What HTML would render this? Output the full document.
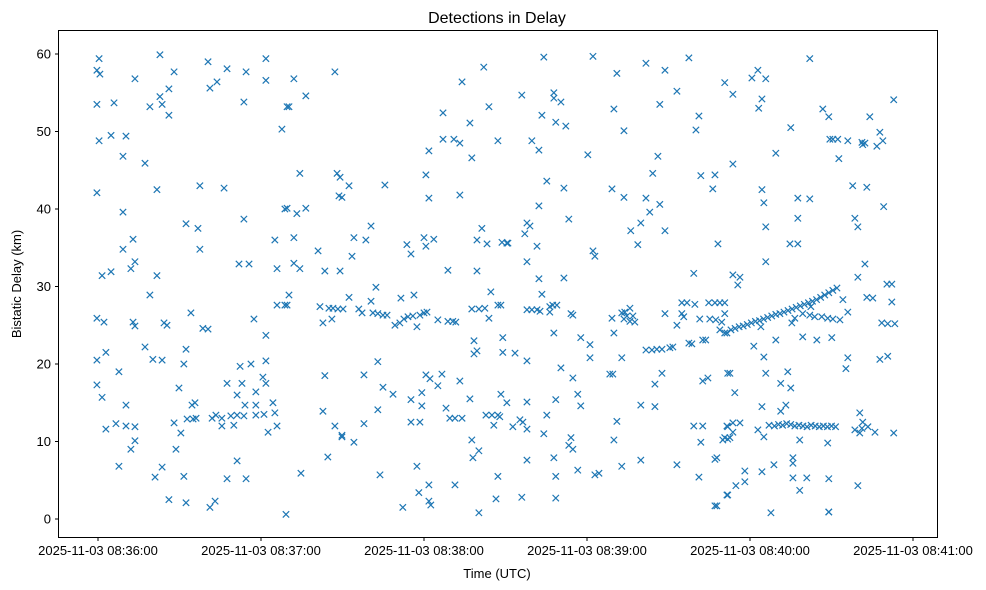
<!DOCTYPE html>
<html><head><meta charset="utf-8"><title>Detections in Delay</title>
<style>
html,body{margin:0;padding:0;background:#fff;}
svg{display:block;font-family:"Liberation Sans","DejaVu Sans",sans-serif;}
</style></head>
<body>
<svg id="chart" width="986" height="590" viewBox="0 0 986 590">
  <rect x="0" y="0" width="986" height="590" fill="#fff"/>
  <text x="497" y="23" text-anchor="middle" font-size="16" fill="#000">Detections in Delay</text>
  <g id="marks"></g>
  <rect x="58.5" y="30.5" width="879" height="507" fill="none" stroke="#000" stroke-width="1"/>
  <g id="xaxis"></g>
  <g id="yaxis"></g>
  <text x="497" y="578" text-anchor="middle" font-size="13" fill="#000">Time (UTC)</text>
  <text x="21" y="284" text-anchor="middle" font-size="13" fill="#000" transform="rotate(-90 21 284)">Bistatic Delay (km)</text>
</svg>
<script>
// seconds after 2025-11-03 08:36:00 UTC
const timesSec = [
0.4,-0.4,0.7,13.6,22.8,28.0,40.5,47.5,54.5,61.8,61.8,41.2,43.8,26.1,22.8,23.6,19.1,26.1,-0.4,5.9,53.7,69.6,67.7,0.4,4.8,10.3,9.2,17.3,-0.4,21.7,37.5,46.4,9.2,53.7,32.4,36.8,37.5,65.1,68.8,9.2,12.9,13.6,12.1,1.5,4.8,21.7,51.9,55.6,65.9,19.1,-0.4,2.2,12.9,13.6,24.3,25.4,34.2,38.6,40.5,57.4,61.8,65.9,68.8,-0.4,2.9,17.3,20.2,23.6,32.4,31.6,7.7,-0.4,1.5,10.3,29.8,52.3,56.3,61.8,47.5,53.0,51.2,58.1,60.7,61.8,34.6,35.7,54.1,58.1,64.4,65.1,2.9,6.6,10.3,13.6,13.6,12.1,28.0,30.5,32.8,35.0,36.1,42.0,43.4,45.6,45.6,48.9,50.0,51.2,53.7,58.1,61.1,62.6,65.9,28.7,7.7,23.6,21.0,31.6,51.2,47.5,54.5,26.1,32.4,41.2,43.1,69.2,
72.1,87.2,76.5,70.3,74.3,88.0,89.1,92.4,88.7,89.8,105.6,69.6,73.2,76.5,72.1,81.0,83.5,89.1,93.5,94.2,98.6,100.5,72.1,74.3,70.3,69.6,81.7,85.0,86.5,88.3,90.2,82.8,86.1,92.4,96.0,97.2,100.5,102.3,101.2,103.0,104.9,106.4,109.3,111.1,112.6,114.1,115.9,117.4,118.5,120.0,121.1,111.5,116.3,125.1,128.8,130.6,131.7,128.8,113.7,115.2,120.0,120.7,123.6,120.7,121.8,121.8,127.0,127.0,131.0,133.2,134.0,136.9,137.6,142.0,143.9,147.2,133.2,141.3,139.5,143.2,148.7,150.5,139.5,144.6,137.6,140.2,142.4,143.9,147.2,148.3,138.4,138.4,139.5,149.0,149.0,103.0,83.5,97.9,104.9,108.6,82.8,103.0,87.2,89.8,89.8,94.2,97.9,115.2,119.2,119.2,120.7,122.2,125.1,126.6,133.2,136.9,128.1,115.2,118.5,129.5,131.4,134.0,142.8,145.0,147.2,147.9,145.7,150.5,148.3,137.6,138.0,140.2,84.6,74.7,103.8,117.4,121.8,118.1,121.8,122.5,131.4,147.2,146.5,112.2,140.2,
164.1,182.2,191.0,201.7,208.7,217.5,230.7,156.0,167.8,167.8,170.4,189.9,206.8,213.1,221.2,220.1,163.4,168.5,172.2,193.6,159.7,162.3,180.3,206.1,204.2,221.9,227.1,226.3,165.2,171.5,189.2,193.6,201.7,206.8,203.1,162.3,173.3,157.9,159.0,157.1,199.8,196.1,208.7,198.7,228.2,161.6,182.2,182.9,157.9,162.3,171.5,163.4,219.3,150.9,157.9,159.7,161.6,162.7,166.3,167.4,168.9,166.3,174.1,174.8,189.2,192.8,193.9,195.8,193.6,195.8,197.6,194.7,196.9,208.7,213.1,214.9,216.8,219.7,214.9,215.6,221.5,225.2,227.4,229.6,224.8,227.1,228.9,230.7,228.9,230.7,167.8,177.7,181.1,181.1,189.9,192.8,153.5,157.9,201.7,203.9,205.7,207.6,210.5,211.6,217.5,218.6,222.6,223.7,170.4,174.8,188.4,189.5,207.6,205.0,222.6,224.5,231.8,157.9,168.5,176.6,177.7,199.8,205.0,152.7,155.3,156.4,157.9,165.2,164.1,191.0,189.9,174.1,173.3,174.8,219.3,222.6,221.9,231.5,230.0,231.8,157.9,167.8,176.6,182.9,184.4,168.5,192.8,199.8,213.1,227.1,221.2,156.0,168.5,227.1,231.5,
233.7,240.7,242.9,245.8,244.4,243.2,262.0,255.0,249.5,233.7,266.8,269.0,284.1,292.9,287.8,288.9,286.7,269.4,270.5,272.3,276.0,281.2,282.3,281.5,272.7,244.4,245.1,245.8,257.6,262.0,257.6,277.8,283.0,289.2,278.6,279.7,254.7,257.6,245.8,282.3,279.7,233.7,236.3,235.5,290.4,292.2,292.2,283.0,285.2,274.2,276.0,288.5,290.7,293.3,
233.0,234.5,236.0,237.5,239.0,240.5,242.0,243.5,245.0,246.5,248.0,249.5,251.0,252.5,254.0,255.5,257.0,258.5,260.0,261.5,263.0,264.5,266.0,267.5,269.0,270.5,272.0,
230.7,231.5,244.0,255.4,256.5,259.4,262.0,263.8,266.4,268.6,270.5,273.1,262.4,241.4,245.1,249.5,259.4,264.6,270.1,276.0,275.3,287.8,290.7,232.6,234.4,245.8,253.9,251.3,255.0,244.4,253.2,251.3,280.4,231.8,233.7,236.3,230.7,232.6,233.7,242.9,245.1,
247.0,249.0,250.5,252.0,253.5,255.0,256.5,258.0,259.5,261.0,262.5,264.0,265.5,267.0,268.5,270.0,271.5,
258.3,268.6,278.6,280.4,281.5,283.4,286.0,281.2,292.9,227.8,238.1,238.1,244.4,248.8,255.8,255.8,255.8,260.9,258.3,269.0,279.7,231.8,234.8,227.8,247.7,269.0,269.0
];
const delaysKm = [
59.4,57.9,57.4,56.8,59.9,57.7,59.0,58.1,57.7,59.4,56.6,55.6,56.4,55.5,54.5,53.5,53.2,52.1,53.5,53.7,53.8,53.2,50.3,48.8,49.5,49.4,46.8,45.9,42.1,42.5,43.0,42.7,39.6,38.7,38.1,37.5,34.8,36.0,40.0,34.8,36.1,33.2,32.3,31.4,31.9,31.4,32.9,32.9,32.3,28.9,25.9,25.4,25.4,24.9,25.3,25.0,26.6,24.6,24.5,25.8,23.7,27.6,27.6,20.5,21.5,22.2,20.6,20.5,21.9,20.0,19.0,17.3,15.7,14.7,16.9,19.7,20.0,20.4,17.5,17.5,16.0,16.4,18.3,17.5,14.7,15.0,14.7,14.7,15.0,13.7,11.6,12.3,12.0,11.9,10.1,9.0,12.4,11.1,12.9,12.9,13.0,13.0,13.4,13.0,12.0,13.3,12.1,13.4,13.3,13.4,13.5,11.2,12.0,9.0,6.8,6.7,5.4,5.5,7.5,5.2,5.2,2.5,2.1,1.5,2.3,0.6,
56.8,57.7,54.6,53.2,44.6,44.6,44.1,43.0,41.7,41.5,43.1,40.1,39.4,40.1,36.3,34.6,32.0,32.0,33.9,36.3,36.0,37.8,33.0,32.3,28.9,27.6,27.4,27.2,27.2,27.1,27.1,25.3,25.8,28.6,27.1,26.6,28.1,29.9,26.6,26.5,26.3,26.3,25.0,25.3,25.8,26.1,26.2,24.8,26.3,26.6,26.7,28.5,28.9,25.7,25.5,25.5,25.4,32.1,35.4,34.2,36.3,35.2,36.1,44.4,41.4,47.5,52.4,49.0,49.0,48.5,56.4,51.1,46.6,58.3,53.2,48.8,41.8,37.5,36.0,35.5,35.7,35.6,32.0,29.3,27.1,27.1,27.2,25.9,27.6,27.6,23.0,21.3,21.7,23.4,21.5,20.3,18.5,18.6,17.0,16.1,13.9,14.1,12.0,10.8,10.6,9.9,12.3,15.4,16.3,14.6,18.6,18.1,17.2,18.7,17.8,15.5,14.3,12.5,12.5,13.0,13.0,13.0,13.4,13.4,13.4,13.2,12.1,15.0,16.1,10.2,7.9,8.8,8.0,5.9,5.7,6.8,4.4,3.4,2.3,1.8,4.4,5.5,2.6,1.5,0.8,
59.6,59.7,57.5,58.8,57.9,59.5,56.3,54.7,55.0,54.3,53.8,52.9,53.5,55.2,52.0,50.2,52.1,51.2,50.7,50.1,48.8,47.6,47.0,46.8,44.6,44.3,44.4,42.6,43.6,42.7,42.6,41.5,41.4,40.6,39.6,40.4,38.7,38.2,37.8,36.8,38.2,37.2,37.2,35.4,35.5,35.2,34.6,33.9,33.2,31.0,31.1,29.0,31.7,35.6,27.0,27.0,27.0,26.8,27.4,27.6,27.6,26.7,26.5,26.3,25.9,26.6,26.7,27.2,25.8,25.5,25.4,26.2,26.2,26.5,25.0,27.9,27.9,27.7,26.5,26.1,25.8,25.8,25.7,25.4,27.9,27.9,27.9,27.9,24.4,24.0,24.0,23.4,22.5,20.8,24.0,20.8,21.4,20.4,21.8,21.8,21.9,21.9,22.1,22.2,22.7,22.6,23.1,23.1,19.5,18.2,18.7,18.7,18.8,17.4,17.8,18.2,18.8,15.1,15.4,16.1,14.6,14.7,14.5,11.9,12.8,12.5,11.6,13.4,11.0,12.6,10.2,10.5,9.5,9.0,12.0,12.0,9.9,12.0,10.2,10.3,7.6,7.9,6.3,5.7,5.9,5.5,6.8,7.6,7.0,7.7,5.4,2.8,2.7,1.7,3.1,
54.8,56.9,57.9,56.8,54.2,53.0,59.4,50.5,47.2,45.8,52.9,51.9,51.9,54.1,49.9,48.8,48.1,49.0,49.0,49.0,48.8,48.6,48.5,48.3,46.5,42.5,40.8,37.7,41.4,41.3,38.8,43.0,42.8,40.3,38.8,37.7,35.5,35.5,33.2,32.9,31.2,31.5,31.2,30.2,30.3,30.3,28.0,28.6,28.5,28.3,26.7,25.3,25.2,25.2,
24.4,24.6,24.8,24.9,25.1,25.3,25.5,25.6,25.8,26.0,26.2,26.4,26.5,26.7,26.9,27.1,27.3,27.5,27.7,27.9,28.1,28.3,28.6,28.9,29.2,29.5,29.8,
26.5,24.0,24.8,25.3,25.9,26.5,26.3,26.1,26.1,25.9,25.8,25.7,27.4,22.3,20.9,23.1,23.5,23.1,23.4,20.8,19.4,20.6,21.0,18.8,16.3,18.8,19.0,17.5,16.9,14.5,14.7,13.9,13.7,11.9,12.4,12.4,10.5,10.5,11.2,11.5,10.6,
12.1,12.0,12.2,12.1,12.3,12.2,12.0,12.1,12.0,11.9,12.1,12.0,11.9,12.0,11.9,12.0,11.9,
10.2,9.8,11.5,11.1,12.5,11.9,11.2,11.7,11.1,7.9,6.2,4.8,6.1,7.0,7.9,7.2,5.3,5.3,3.7,5.2,4.3,3.1,4.3,1.7,0.8,0.9,0.9
];
const xTickSec = [0, 60, 120, 180, 240, 300];
const xTickLabels = ["2025-11-03 08:36:00","2025-11-03 08:37:00","2025-11-03 08:38:00","2025-11-03 08:39:00","2025-11-03 08:40:00","2025-11-03 08:41:00"];
const yTicks = [0, 10, 20, 30, 40, 50, 60];

const NS = "http://www.w3.org/2000/svg";
function sx(s){ return 98 + s * 163 / 60; }
function sy(k){ return 519 - k * 7.75; }

const marks = document.getElementById('marks');
const n = Math.min(timesSec.length, delaysKm.length);
for (let i = 0; i < n; i++) {
  const cx = sx(timesSec[i]), cy = sy(delaysKm[i]), r = 3.2;
  const p = document.createElementNS(NS, 'path');
  p.setAttribute('d', `M${cx-r},${cy-r}L${cx+r},${cy+r}M${cx-r},${cy+r}L${cx+r},${cy-r}`);
  p.setAttribute('stroke', '#1f77b4');
  p.setAttribute('stroke-width', '1.2');
  p.setAttribute('fill', 'none');
  
  
  marks.appendChild(p);
}

const xaxis = document.getElementById('xaxis');
xTickSec.forEach((s, i) => {
  const x = sx(s);
  const t = document.createElementNS(NS, 'line');
  t.setAttribute('x1', x); t.setAttribute('x2', x);
  t.setAttribute('y1', 537.5); t.setAttribute('y2', 541);
  t.setAttribute('stroke', '#000');
  
  
  xaxis.appendChild(t);
  const l = document.createElementNS(NS, 'text');
  l.setAttribute('x', x); l.setAttribute('y', 555);
  l.setAttribute('text-anchor', 'middle');
  l.setAttribute('font-size', '13');
  l.textContent = xTickLabels[i];
  
  
  xaxis.appendChild(l);
});

const yaxis = document.getElementById('yaxis');
yTicks.forEach(v => {
  const y = sy(v);
  const t = document.createElementNS(NS, 'line');
  t.setAttribute('x1', 55); t.setAttribute('x2', 58.5);
  t.setAttribute('y1', y); t.setAttribute('y2', y);
  t.setAttribute('stroke', '#000');
  
  
  yaxis.appendChild(t);
  const l = document.createElementNS(NS, 'text');
  l.setAttribute('x', 51); l.setAttribute('y', y + 4.5);
  l.setAttribute('text-anchor', 'end');
  l.setAttribute('font-size', '13');
  l.textContent = String(v);
  
  
  yaxis.appendChild(l);
});
</script>
</body></html>
